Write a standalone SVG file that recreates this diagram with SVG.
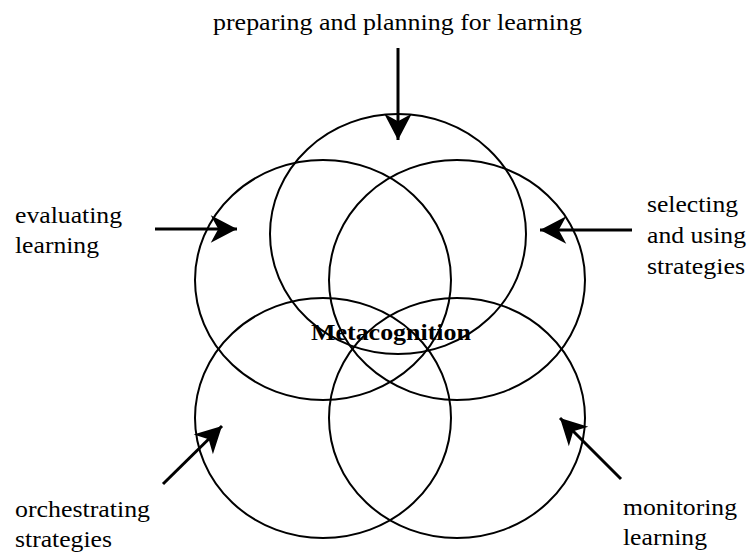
<svg xmlns="http://www.w3.org/2000/svg" width="748" height="554" viewBox="0 0 748 554">
<style>
  .c { fill: none; stroke: #000; stroke-width: 2; }
  .a { fill: none; stroke: #000; stroke-width: 3; marker-end: url(#ah); }
  .t { font-family: "Liberation Serif", "Times New Roman", serif; font-size: 24px; fill: #000; }
  .b { font-family: "Liberation Serif", "Times New Roman", serif; font-size: 24px; font-weight: bold; fill: #000; }
</style>
<defs>
  <marker id="ah" markerUnits="userSpaceOnUse" markerWidth="30" markerHeight="30" viewBox="-22 -12 24 24" refX="0" refY="0" orient="auto">
    <path d="M0,0 L-21,-11 L-15,0 L-21,11 Z" fill="#000"/>
  </marker>
</defs>
<rect width="748" height="554" fill="#fff"/>
<g id="circle-top"><ellipse class="c" cx="398" cy="234" rx="128" ry="120"/></g>
<g id="circle-left"><ellipse class="c" cx="323" cy="280" rx="128" ry="120"/></g>
<g id="circle-right"><ellipse class="c" cx="457" cy="280" rx="128" ry="120"/></g>
<g id="circle-bottom-left"><ellipse class="c" cx="323" cy="418" rx="128" ry="120"/></g>
<g id="circle-bottom-right"><ellipse class="c" cx="457" cy="418" rx="128" ry="120"/></g>
<g id="connectors">
  <line class="a" x1="398" y1="48" x2="398" y2="140"/>
  <line class="a" x1="155" y1="229" x2="237" y2="229"/>
  <line class="a" x1="632" y1="230" x2="540" y2="230"/>
  <line class="a" x1="163" y1="484" x2="222" y2="426"/>
  <line class="a" x1="621" y1="479" x2="560" y2="418"/>
</g>
<g id="label-top"><text class="t" x="213" y="30" textLength="369" lengthAdjust="spacingAndGlyphs">preparing and planning for learning</text></g>
<g id="label-left">
  <text class="t" x="15" y="223" textLength="107" lengthAdjust="spacingAndGlyphs">evaluating</text>
  <text class="t" x="15" y="253" textLength="84" lengthAdjust="spacingAndGlyphs">learning</text>
</g>
<g id="label-right">
  <text class="t" x="647" y="212" textLength="91" lengthAdjust="spacingAndGlyphs">selecting</text>
  <text class="t" x="647" y="243" textLength="99" lengthAdjust="spacingAndGlyphs">and using</text>
  <text class="t" x="647" y="274" textLength="98" lengthAdjust="spacingAndGlyphs">strategies</text>
</g>
<g id="label-bottom-left">
  <text class="t" x="15" y="517" textLength="135" lengthAdjust="spacingAndGlyphs">orchestrating</text>
  <text class="t" x="15" y="547" textLength="97" lengthAdjust="spacingAndGlyphs">strategies</text>
</g>
<g id="label-bottom-right">
  <text class="t" x="623" y="515" textLength="114" lengthAdjust="spacingAndGlyphs">monitoring</text>
  <text class="t" x="623" y="545" textLength="84" lengthAdjust="spacingAndGlyphs">learning</text>
</g>
<g id="center"><text class="b" x="311" y="340" textLength="160" lengthAdjust="spacingAndGlyphs">Metacognition</text></g>
</svg>
